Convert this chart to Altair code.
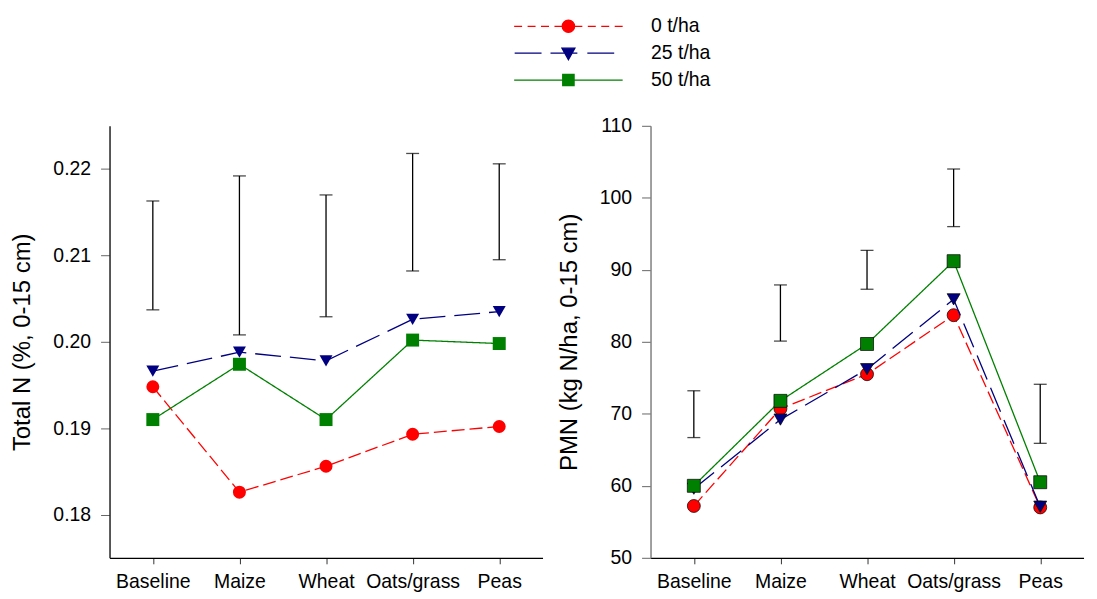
import pandas as pd
import altair as alt

# Data
categories = ["Baseline", "Maize", "Wheat", "Oats/grass", "Peas"]
series_names = ["0 t/ha", "25 t/ha", "50 t/ha"]

totaln_0 = [0.1948, 0.1826, 0.1856, 0.1893, 0.1902]
totaln_25 = [0.1966, 0.1988, 0.1978, 0.2026, 0.2035]
totaln_50 = [0.1910, 0.1974, 0.1910, 0.2002, 0.1998]
totaln_lo = [0.2037, 0.2008, 0.2029, 0.2082, 0.2095]
totaln_hi = [0.2163, 0.2192, 0.2170, 0.2218, 0.2206]

pmn_0 = [57.2, 70.7, 75.5, 83.7, 57.0]
pmn_25 = [59.6, 69.2, 76.2, 85.9, 57.1]
pmn_50 = [60.0, 71.8, 79.7, 91.2, 60.5]
pmn_lo = [66.7, 80.1, 87.3, 96.0, 65.9]
pmn_hi = [73.2, 87.9, 92.7, 104.0, 74.1]

colors = ["#ff0000", "#000080", "#008000"]
shapes = ["circle", "triangle-down", "square"]
dashes = [[13, 5], [26, 9], [1, 0]]

# legend symbols: line (dashed) with the marker in the middle, as custom paths
legend_paths = [
    "M-5.45,0H-4.65M-4.1,0H-3.3M-2.75,0H-1.95M-1.4,0H1.4M1.95,0H2.75M3.3,0H4.1M4.65,0H5.45"
    "M0.62,0A0.62,0.62,0,1,1,-0.62,0A0.62,0.62,0,1,1,0.62,0Z",
    "M-5.4,0H-2.7M-1.8,0H0.9M1.9,0H4.6"
    "M-0.65,-0.5L0.65,-0.5L0,0.65Z",
    "M-5.45,0H5.45"
    "M-0.57,-0.57H0.57V0.57H-0.57Z",
]

FONT = "Liberation Sans"


def long_form(series_values):
    rows = []
    for name, vals in zip(series_names, series_values):
        for c, v in zip(categories, vals):
            rows.append({"cat": c, "series": name, "value": v})
    return pd.DataFrame(rows)


def panel(values, lo, hi, domain, ticks, fmt, title, outline, axis_color, legend=False):
    df = long_form(values)
    err = pd.DataFrame({"cat": categories, "lo": lo, "hi": hi})

    x = alt.X("cat:N", sort=categories,
              scale=alt.Scale(type="point", padding=0.5),
              axis=alt.Axis(title=None, labelAngle=0, domainColor="black",
                            domainWidth=1.3, tickColor="#333", tickSize=6,
                            labelPadding=9))
    yscale = alt.Scale(domain=domain, nice=False, zero=False)
    yaxis = alt.Axis(title=title, values=ticks, format=fmt, domainColor=axis_color,
                     domainWidth=1.5, tickColor="#666", tickSize=9,
                     labelPadding=10, titlePadding=18, grid=False)

    def y(field):
        return alt.Y(field, type="quantitative", scale=yscale, axis=yaxis)

    base_err = alt.Chart(err)
    layers = [
        base_err.mark_rule(color="black", strokeWidth=1.3).encode(x=x, y=y("lo"), y2="hi"),
        base_err.mark_tick(color="black", size=13, thickness=1.3).encode(x=x, y=y("lo")),
        base_err.mark_tick(color="black", size=13, thickness=1.3).encode(x=x, y=y("hi")),
    ]
    for name, col, shp, dash in zip(series_names, colors, shapes, dashes):
        sub = alt.Chart(df).transform_filter(alt.datum.series == name)
        layers.append(sub.mark_line(color=col, strokeWidth=1.3, strokeDash=dash)
                      .encode(x=x, y=y("value")))
        pt = dict(shape=shp, filled=True, fill=col, size=170, opacity=1)
        if outline:
            pt.update(stroke="black", strokeWidth=0.7)
        else:
            pt.update(strokeWidth=0)
        layers.append(sub.mark_point(**pt).encode(x=x, y=y("value")))

    if legend:
        leg = alt.Legend(title=None, orient="none", legendX=450, legendY=-111,
                         direction="vertical", symbolSize=400, symbolStrokeWidth=1.3,
                         symbolOpacity=1, labelOffset=72, rowPadding=6, padding=0,
                         labelFontSize=19.5, labelFont=FONT, labelColor="black")
        lg = pd.DataFrame({"series": series_names})
        layers.append(
            alt.Chart(lg).mark_point(opacity=0).encode(
                shape=alt.Shape("series:N", scale=alt.Scale(domain=series_names, range=legend_paths), legend=leg),
                fill=alt.Fill("series:N", scale=alt.Scale(domain=series_names, range=colors), legend=leg),
                stroke=alt.Stroke("series:N", scale=alt.Scale(domain=series_names, range=colors), legend=leg),
            )
        )

    return alt.layer(*layers).properties(width=435, height=434)


left = panel([totaln_0, totaln_25, totaln_50], totaln_lo, totaln_hi,
             [0.175, 0.225], [0.18, 0.19, 0.20, 0.21, 0.22], ".2f",
             "Total N (%, 0-15 cm)", outline=False, axis_color="#222", legend=True)
right = panel([pmn_0, pmn_25, pmn_50], pmn_lo, pmn_hi,
              [50, 110], [50, 60, 70, 80, 90, 100, 110], "d",
              "PMN (kg N/ha, 0-15 cm)", outline=True, axis_color="#808080")

chart = alt.hconcat(left, right, spacing=108.5, bounds="flush").properties(
    padding={"left": 2, "top": 6, "right": 5, "bottom": 2}
).configure_view(
    stroke="transparent"
).configure_axis(
    labelFont=FONT, titleFont=FONT, labelFontSize=19.5, titleFontSize=24,
    labelColor="black", titleColor="black", titleFontWeight="normal"
)

chart.save("out.html", embed_options={"renderer": "svg", "actions": False})
